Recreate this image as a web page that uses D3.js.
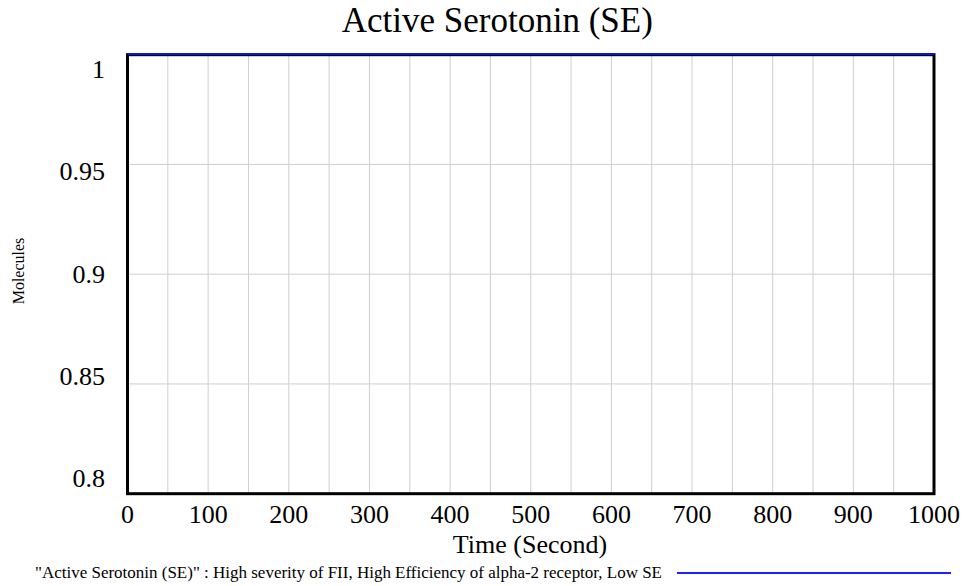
<!DOCTYPE html>
<html>
<head>
<meta charset="utf-8">
<script src="https://cdn.jsdelivr.net/npm/d3@7"></script>
<style>
  html, body { margin: 0; padding: 0; background: #fff; }
  svg { display: block; }
  text { font-family: "Liberation Serif", "Times New Roman", serif; fill: #000; }
</style>
</head>
<body>
<svg id="chart" width="966" height="586"></svg>
<script>
// Simulation output: Active Serotonin (SE) over time
const time = [0, 100, 200, 300, 400, 500, 600, 700, 800, 900, 1000];
const activeSE = [1, 1, 1, 1, 1, 1, 1, 1, 1, 1, 1];

const xTicks = [0, 100, 200, 300, 400, 500, 600, 700, 800, 900, 1000];
const xGrid = d3.range(50, 1000, 50);
const yTicks = [0.8, 0.85, 0.9, 0.95, 1];
const yGrid = [0.85, 0.9, 0.95];

const title = "Active Serotonin (SE)";
const xTitle = "Time (Second)";
const yTitle = "Molecules";
const legendLabel = "\"Active Serotonin (SE)\" : High severity of FII, High Efficiency of alpha-2 receptor, Low SE";

const svg = d3.select("#chart");
const plot = { left: 127.5, right: 934, top: 54.7, bottom: 493.7 };

const x = d3.scaleLinear().domain([0, 1000]).range([plot.left, plot.right]);
const y = d3.scaleLinear().domain([0.8, 1]).range([plot.bottom, plot.top]);
// value labels on the vertical axis are spread evenly over their own band
const yLabel = d3.scaleLinear().domain([0.8, 1]).range([487, 78]);

// grid
svg.append("g").selectAll("line").data(xGrid).join("line")
  .attr("x1", d => x(d)).attr("x2", d => x(d))
  .attr("y1", plot.top).attr("y2", plot.bottom)
  .attr("stroke", "#cfcfcf").attr("stroke-width", 1);
svg.append("g").selectAll("line").data(yGrid).join("line")
  .attr("x1", plot.left).attr("x2", plot.right)
  .attr("y1", d => y(d)).attr("y2", d => y(d))
  .attr("stroke", "#cfcfcf").attr("stroke-width", 1);

// frame
svg.append("rect")
  .attr("x", plot.left).attr("y", plot.top)
  .attr("width", plot.right - plot.left).attr("height", plot.bottom - plot.top)
  .attr("fill", "none").attr("stroke", "#000").attr("stroke-width", 3);

// data line
const line = d3.line().x((d, i) => x(time[i])).y(d => y(d));
svg.append("path")
  .datum(activeSE)
  .attr("d", line)
  .attr("transform", "translate(0,-0.8)")
  .attr("fill", "none")
  .attr("stroke", "#1010e8")
  .attr("stroke-width", 2);

// x axis labels
svg.append("g").selectAll("text").data(xTicks).join("text")
  .attr("x", d => x(d)).attr("y", 523)
  .attr("text-anchor", "middle")
  .attr("font-size", 26)
  .text(d => d3.format("d")(d));

// y axis labels
svg.append("g").selectAll("text").data(yTicks).join("text")
  .attr("x", 105).attr("y", d => yLabel(d))
  .attr("text-anchor", "end")
  .attr("font-size", 26)
  .text(d => d3.format("~g")(d));

// title
svg.append("text")
  .attr("x", (341.7 + 653) / 2).attr("y", 32)
  .attr("text-anchor", "middle")
  .attr("font-size", 35)
  .text(title);

// axis titles
svg.append("text")
  .attr("x", 530).attr("y", 553)
  .attr("text-anchor", "middle")
  .attr("font-size", 26)
  .text(xTitle);

svg.append("text")
  .attr("transform", "translate(24,271) rotate(-90)")
  .attr("text-anchor", "middle")
  .attr("font-size", 16)
  .text(yTitle);

// legend
svg.append("text")
  .attr("x", 35).attr("y", 578)
  .attr("font-size", 16)
  .attr("textLength", 627)
  .attr("lengthAdjust", "spacingAndGlyphs")
  .text(legendLabel);
svg.append("line")
  .attr("x1", 677).attr("x2", 951)
  .attr("y1", 573).attr("y2", 573)
  .attr("stroke", "#2020ff").attr("stroke-width", 2);
</script>
</body>
</html>
